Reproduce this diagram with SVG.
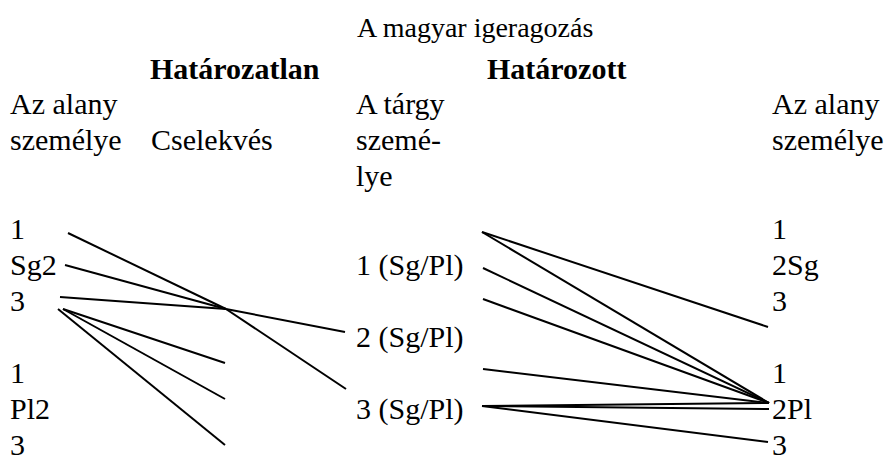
<svg xmlns="http://www.w3.org/2000/svg" width="890" height="455" viewBox="0 0 890 455" font-family="'Liberation Serif', 'DejaVu Serif', serif">
  <style>
    text { font-family: 'Liberation Serif', 'DejaVu Serif', serif; font-size: 30px; fill: #000; }
    .title { font-size: 28px; }
    .head { font-weight: bold; }
    .link { stroke: #000; stroke-width: 2; fill: none; stroke-linecap: butt; }
  </style>
  <rect width="890" height="455" fill="#fff"/>

  <!-- title and column headings -->
  <g id="title"><text class="title" x="357" y="37">A magyar igeragozás</text></g>
  <g id="head-indef"><text class="head" x="150" y="79">Határozatlan</text></g>
  <g id="head-def"><text class="head" x="487" y="79">Határozott</text></g>

  <g id="col-subject-left">
    <text x="10" y="114">Az alany</text>
    <text x="10" y="150">személye</text>
  </g>
  <g id="col-action"><text x="151" y="150">Cselekvés</text></g>
  <g id="col-object">
    <text x="356" y="114">A tárgy</text>
    <text x="356" y="150">szemé-</text>
    <text x="356" y="186">lye</text>
  </g>
  <g id="col-subject-right">
    <text x="772" y="114">Az alany</text>
    <text x="772" y="150">személye</text>
  </g>

  <!-- left subject persons -->
  <g id="ls-1"><text x="10" y="239">1</text></g>
  <g id="ls-sg2"><text x="10" y="275">Sg2</text></g>
  <g id="ls-3"><text x="10" y="311">3</text></g>
  <g id="lp-1"><text x="10" y="383">1</text></g>
  <g id="lp-pl2"><text x="10" y="419">Pl2</text></g>
  <g id="lp-3"><text x="10" y="455">3</text></g>

  <!-- object persons -->
  <g id="obj-1"><text x="356" y="275">1 (Sg/Pl)</text></g>
  <g id="obj-2"><text x="356" y="347">2 (Sg/Pl)</text></g>
  <g id="obj-3"><text x="356" y="419">3 (Sg/Pl)</text></g>

  <!-- right subject persons -->
  <g id="rs-1"><text x="772" y="239">1</text></g>
  <g id="rs-2sg"><text x="772" y="275">2Sg</text></g>
  <g id="rs-3"><text x="772" y="311">3</text></g>
  <g id="rp-1"><text x="772" y="383">1</text></g>
  <g id="rp-2pl"><text x="772" y="419">2Pl</text></g>
  <g id="rp-3"><text x="772" y="455">3</text></g>

  <!-- connectors -->
  <g id="connectors" class="link">
    <!-- singular subjects meeting at one point, then on to the objects -->
    <line x1="68" y1="233" x2="226" y2="309"/>
    <line x1="65" y1="265" x2="226" y2="309"/>
    <line x1="60" y1="297" x2="226" y2="309"/>
    <line x1="226" y1="309" x2="345" y2="332"/>
    <line x1="226" y1="309" x2="346" y2="389"/>
    <!-- fan from 3 towards the plural rows -->
    <line x1="63" y1="309" x2="225" y2="363"/>
    <line x1="63" y1="309" x2="225" y2="399"/>
    <line x1="58" y1="309" x2="225" y2="445"/>
    <!-- definite conjugation -->
    <line x1="482" y1="232" x2="768" y2="327"/>
    <line x1="482" y1="232" x2="769" y2="403"/>
    <line x1="483" y1="268" x2="769" y2="403"/>
    <line x1="483" y1="299" x2="769" y2="403"/>
    <line x1="483" y1="369" x2="769" y2="403"/>
    <line x1="482" y1="406" x2="769" y2="403"/>
    <line x1="482" y1="406" x2="769" y2="409"/>
    <line x1="482" y1="406" x2="768" y2="442"/>
  </g>
</svg>
